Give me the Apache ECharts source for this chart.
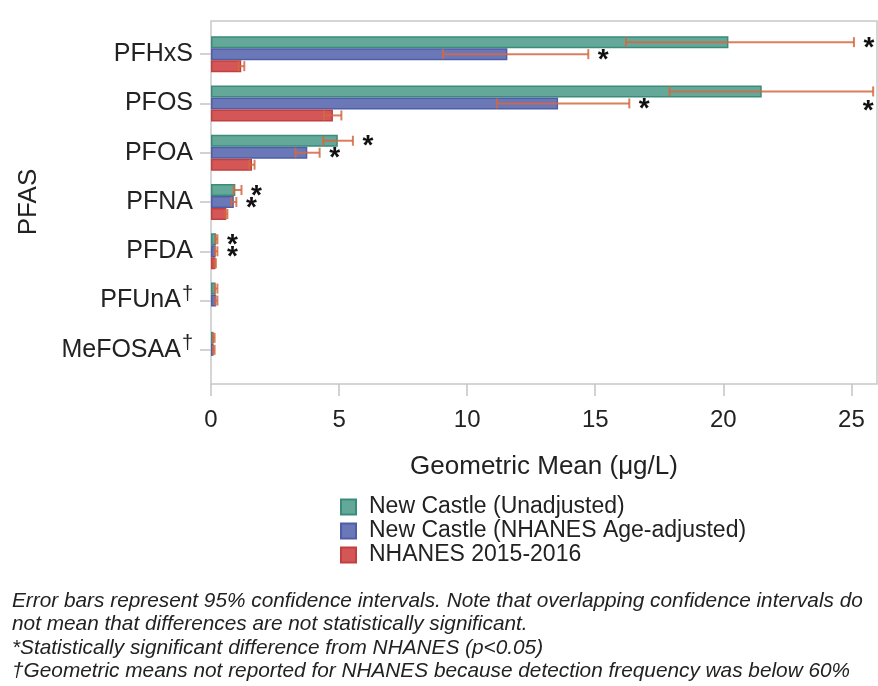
<!DOCTYPE html>
<html>
<head>
<meta charset="utf-8">
<script src="https://cdn.jsdelivr.net/npm/echarts@6/dist/echarts.min.js"></script>
<style>
  html, body { margin: 0; padding: 0; background: #ffffff; }
  #chart { width: 878px; height: 686px; }
</style>
</head>
<body>
<div id="chart"></div>
<script>
// PFAS serum concentrations, geometric means with 95% confidence intervals (µg/L)
const categories = ['PFHxS', 'PFOS', 'PFOA', 'PFNA', 'PFDA', 'PFUnA', 'MeFOSAA'];
const daggerFlags = [false, false, false, false, false, true, true];

const seriesNames = ['New Castle (Unadjusted)', 'New Castle (NHANES Age-adjusted)', 'NHANES 2015-2016'];

const unadjMean  = [20.2, 21.5, 4.95, 0.95, 0.2, 0.18, 0.1];
const unadjLower = [16.2, 17.9, 4.38, 0.89, 0.18, 0.15, 0.08];
const unadjUpper = [25.1, 25.85, 5.54, 1.19, 0.25, 0.25, 0.14];
const unadjSig   = [true, true, true, true, true, false, false];

const adjMean  = [11.57, 13.55, 3.76, 0.89, 0.18, 0.2, 0.1];
const adjLower = [9.06, 11.16, 3.3, 0.8, 0.16, 0.17, 0.08];
const adjUpper = [14.73, 16.33, 4.24, 0.99, 0.25, 0.25, 0.14];
const adjSig   = [true, true, true, true, true, false, false];

const nhanesMean  = [1.18, 4.76, 1.6, 0.6, 0.17, null, null];
const nhanesLower = [1.08, 4.41, 1.5, 0.56, 0.15, null, null];
const nhanesUpper = [1.3, 5.09, 1.7, 0.64, 0.19, null, null];

const xTicks = [0, 5, 10, 15, 20, 25];

// layout
const FONT = '"Liberation Sans", Arial, Helvetica, sans-serif';
const BAR_W = 12;
const GRID = { left: 211, right: 1, top: 29.5, height: 345 };
const FRAME = { x: 211, y: 21, w: 666, h: 363 };

const colors = {
  fill:   ['#64a899', '#6b78b8', '#d45656'],
  border: ['#3a8b79', '#4f5ca6', '#c13f3f'],
  err: 'rgba(210, 104, 66, 0.85)'
};

const chart = echarts.init(document.getElementById('chart'), null, { renderer: 'canvas' });

function barSeries(idx, values) {
  return {
    type: 'bar',
    name: seriesNames[idx],
    data: values,
    barWidth: BAR_W,
    barGap: '0%',
    itemStyle: { color: colors.fill[idx], borderColor: colors.border[idx], borderWidth: 1.5 },
    emphasis: { disabled: true },
    z: 2
  };
}

function errorSeries(idx, lower, upper) {
  const data = [];
  lower.forEach((lo, i) => { if (lo != null) data.push([i, lo, upper[i]]); });
  const slot = idx - 1; // -1 top, 0 middle, +1 bottom within a group
  return {
    type: 'custom',
    name: 'ci' + idx,
    silent: true,
    z: 5,
    data: data,
    encode: { x: [1, 2], y: 0 },
    renderItem: function (params, api) {
      const cat = api.value(0);
      const p0 = api.coord([api.value(1), cat]);
      const p1 = api.coord([api.value(2), cat]);
      const y = p0[1] + slot * BAR_W;
      const cap = 5;
      const style = { stroke: colors.err, lineWidth: 2 };
      return {
        type: 'group',
        children: [
          { type: 'line', shape: { x1: p0[0], y1: y, x2: p1[0], y2: y }, style: style },
          { type: 'line', shape: { x1: p0[0], y1: y - cap, x2: p0[0], y2: y + cap }, style: style },
          { type: 'line', shape: { x1: p1[0], y1: y - cap, x2: p1[0], y2: y + cap }, style: style }
        ]
      };
    }
  };
}

function starSeries(idx, upper, flags) {
  const data = [];
  flags.forEach((f, i) => { if (f) data.push([i, upper[i]]); });
  const slot = idx - 1;
  return {
    type: 'custom',
    name: 'sig' + idx,
    silent: true,
    z: 6,
    data: data,
    encode: { x: 1, y: 0 },
    renderItem: function (params, api) {
      const p = api.coord([api.value(1), api.value(0)]);
      let x = p[0] + 15;
      let y = p[1] + slot * BAR_W;
      const rightEdge = params.coordSys.x + params.coordSys.width;
      if (x > rightEdge - 6) { x = p[0] - 5; y += 14; }
      return {
        type: 'text',
        style: {
          x: x, y: y + 6, text: '*',
          fill: '#111111', font: 'bold 28px ' + FONT,
          textAlign: 'center', textVerticalAlign: 'middle'
        }
      };
    }
  };
}

const option = {
  animation: false,
  backgroundColor: '#ffffff',
  textStyle: { fontFamily: FONT },
  grid: { left: GRID.left, right: GRID.right, top: GRID.top, height: GRID.height, containLabel: false },
  legend: {
    data: seriesNames,
    orient: 'vertical',
    left: 340,
    top: 495,
    padding: 0,
    itemWidth: 15,
    itemHeight: 15,
    itemGap: 0,
    icon: 'rect',
    selectedMode: false,
    textStyle: { fontFamily: FONT, fontSize: 23, color: '#222222', lineHeight: 24, padding: [0, 0, 0, 8] }
  },
  xAxis: {
    type: 'value',
    min: 0,
    max: 26,
    interval: 5,
    offset: 9.5,
    name: 'Geometric Mean (μg/L)',
    nameLocation: 'middle',
    nameGap: 70,
    nameTextStyle: { fontFamily: FONT, fontSize: 26, color: '#222222' },
    axisLine: { show: false },
    axisTick: { show: true, length: 12, customValues: xTicks, lineStyle: { color: '#c4c4c4', width: 1.5 } },
    axisLabel: { customValues: xTicks, margin: 24, fontFamily: FONT, fontSize: 24, color: '#222222' },
    splitLine: { show: false }
  },
  yAxis: {
    type: 'category',
    data: categories,
    inverse: true,
    name: 'PFAS',
    nameLocation: 'middle',
    nameGap: 169,
    nameRotate: 90,
    nameTextStyle: { fontFamily: FONT, fontSize: 26, color: '#222222' },
    axisLine: { show: false },
    axisTick: { show: true, alignWithLabel: true, length: 11, lineStyle: { color: '#c4c4c4', width: 1.5 } },
    axisLabel: {
      margin: 18,
      fontFamily: FONT,
      fontSize: 25,
      color: '#222222',
      formatter: function (v, i) {
        return daggerFlags[i] ? '{n|' + v + '}{d|†}' : v;
      },
      rich: {
        n: { fontFamily: FONT, fontSize: 25, color: '#222222' },
        d: { fontFamily: FONT, fontSize: 20, color: '#222222', verticalAlign: 'top', padding: [0, 0, 13, 1] }
      }
    }
  },
  graphic: [
    {
      type: 'rect',
      silent: true,
      z: 0,
      shape: { x: FRAME.x, y: FRAME.y, width: FRAME.w, height: FRAME.h },
      style: { fill: null, stroke: '#c8c8c8', lineWidth: 1.5 }
    },
    {
      type: 'text',
      left: 12,
      top: 589,
      silent: true,
      style: {
        text: 'Error bars represent 95% confidence intervals. Note that overlapping confidence intervals do\n' +
              'not mean that differences are not statistically significant.\n' +
              '*Statistically significant difference from NHANES (p<0.05)\n' +
              '†Geometric means not reported for NHANES because detection frequency was below 60%',
        font: 'italic 20.8px ' + FONT,
        lineHeight: 23.6,
        fill: '#222222'
      }
    }
  ],
  series: [
    barSeries(0, unadjMean),
    barSeries(1, adjMean),
    barSeries(2, nhanesMean),
    errorSeries(0, unadjLower, unadjUpper),
    errorSeries(1, adjLower, adjUpper),
    errorSeries(2, nhanesLower, nhanesUpper),
    starSeries(0, unadjUpper, unadjSig),
    starSeries(1, adjUpper, adjSig)
  ]
};

chart.setOption(option);
</script>
</body>
</html>
